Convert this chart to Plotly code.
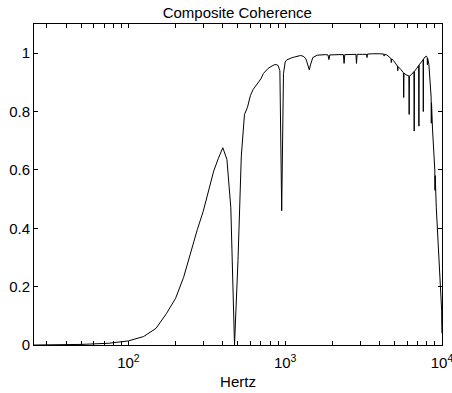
import plotly.graph_objects as go

freq_hz = [25, 50, 75, 100, 125, 150, 175, 200, 225, 250, 275, 300, 325, 350, 375, 400, 425, 450, 475, 500,
           525, 550, 575, 600, 625, 650, 675, 700, 725, 750, 775, 800, 825, 850, 875, 900, 925, 950, 975, 1000,
           1025, 1050, 1100, 1150, 1200, 1250, 1300, 1350, 1375, 1400, 1425, 1450, 1475, 1500, 1600, 1700, 1800,
           1875, 1900, 1925, 2000, 2200, 2350, 2375, 2400, 2600, 2825, 2850, 2875, 3100, 3300, 3325, 3350, 3600,
           3800, 4000, 4250, 4275, 4300, 4450, 4600, 4725, 4750, 4775, 4900, 5050, 5200, 5225, 5250, 5450, 5675,
           5700, 5725, 5900, 6150, 6175, 6200, 6400, 6625, 6650, 6675, 6900, 7100, 7125, 7150, 7400, 7575, 7600,
           7625, 7800, 7950, 8050, 8075, 8100, 8250, 8400, 8525, 8550, 8575, 8700, 8850, 9000, 9025, 9050, 9200,
           9350, 9475, 9500, 9525, 9650, 9800, 9950, 9975, 10000]

coherence = [0.0, 0.002, 0.006, 0.014, 0.029, 0.057, 0.108, 0.16, 0.232, 0.32, 0.395, 0.458, 0.527, 0.596, 0.64,
             0.676, 0.636, 0.47, 0.0, 0.29, 0.647, 0.79, 0.815, 0.855, 0.876, 0.89, 0.90, 0.912, 0.93, 0.94, 0.947,
             0.952, 0.957, 0.96, 0.961, 0.958, 0.94, 0.46, 0.93, 0.97, 0.977, 0.98, 0.984, 0.987, 0.99, 0.992, 0.99,
             0.982, 0.97, 0.955, 0.943, 0.96, 0.975, 0.985, 0.993, 0.995, 0.995, 0.994, 0.978, 0.994, 0.995, 0.995,
             0.995, 0.965, 0.995, 0.996, 0.996, 0.965, 0.996, 0.996, 0.996, 0.985, 0.997, 0.998, 0.999, 0.998, 0.997,
             0.99, 0.996, 0.994, 0.988, 0.982, 0.968, 0.98, 0.975, 0.965, 0.956, 0.94, 0.954, 0.945, 0.933, 0.848,
             0.932, 0.926, 0.922, 0.79, 0.922, 0.927, 0.937, 0.733, 0.938, 0.948, 0.958, 0.75, 0.96, 0.97, 0.978,
             0.80, 0.98, 0.987, 0.99, 0.985, 0.96, 0.982, 0.962, 0.91, 0.85, 0.76, 0.83, 0.74, 0.67, 0.60, 0.53,
             0.58, 0.47, 0.40, 0.37, 0.33, 0.35, 0.25, 0.19, 0.12, 0.06, 0.04]

y_ticks = [0, 0.2, 0.4, 0.6, 0.8, 1]
y_tick_labels = ["0", "0.2", "0.4", "0.6", "0.8", "1"]

x_ticks = [30, 40, 50, 60, 70, 80, 90, 100, 200, 300, 400, 500, 600, 700, 800, 900,
           1000, 2000, 3000, 4000, 5000, 6000, 7000, 8000, 9000, 10000]
x_tick_labels = ["10<sup>2</sup>" if v == 100 else "10<sup>3</sup>" if v == 1000
                 else "10<sup>4</sup>" if v == 10000 else "" for v in x_ticks]

FONT = "Liberation Sans, Arial, Helvetica, sans-serif"

fig = go.Figure()
fig.add_trace(go.Scatter(x=freq_hz, y=coherence, mode="lines",
                         line=dict(color="black", width=1), showlegend=False))

fig.update_layout(
    width=452, height=393,
    margin=dict(l=34, r=10, t=24, b=48, autoexpand=False),
    paper_bgcolor="white", plot_bgcolor="white",
    font=dict(family=FONT, size=15, color="black"),
    title=dict(text="Composite Coherence", x=0.525, xanchor="center", y=0.967, yanchor="middle",
               font=dict(family=FONT, size=15, color="black")),
    xaxis=dict(type="log", range=[1.39794, 4.0001], tickvals=x_ticks, ticktext=x_tick_labels,
               ticks="inside", ticklen=4, tickcolor="black", showline=True, linecolor="black",
               linewidth=1, mirror="ticks", showgrid=False, zeroline=False, automargin=False,
               ticklabeloverflow="allow", ticklabelstandoff=4,
               title=dict(text="Hertz", standoff=6, font=dict(family=FONT, size=15)),
               tickfont=dict(family=FONT, size=15)),
    yaxis=dict(range=[0, 1.1], tickvals=y_ticks, ticktext=y_tick_labels,
               ticks="inside", ticklen=4, tickcolor="black", showline=True, linecolor="black",
               linewidth=1, mirror="ticks", showgrid=False, zeroline=False, automargin=False,
               tickfont=dict(family=FONT, size=15)),
)

fig.write_html("out.html", config={"displayModeBar": False},
               post_script="document.body.style.margin='0';document.body.style.overflow='hidden';")
